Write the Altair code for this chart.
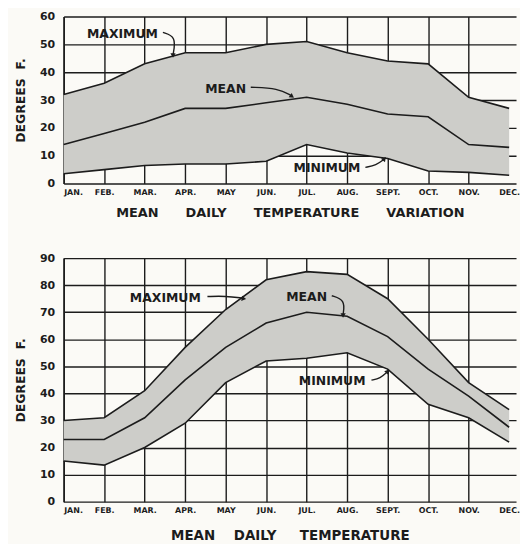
import json
import altair as alt
import pandas as pd

months = ["JAN.", "FEB.", "MAR.", "APR.", "MAY", "JUN.", "JUL.", "AUG.", "SEPT.", "OCT.", "NOV.", "DEC."]

var_max = [32, 36, 43, 47, 47, 50, 51, 47, 44, 43, 31, 27]
var_mean = [14, 18, 22, 27, 27, 29, 31, 28.5, 25, 24, 14, 13]
var_min = [3.5, 5, 6.5, 7, 7, 8, 14, 11, 9, 4.5, 4, 3]

temp_max = [30, 31, 41, 57, 71, 82, 85, 84, 75, 60, 44, 34]
temp_mean = [23, 23, 31, 45, 57, 66, 70, 68.5, 61, 49, 39, 27.5]
temp_min = [15, 13.5, 20, 29, 44, 52, 53, 55, 49, 36, 31, 22]

# annotation labels: text, x (month index), y (degrees)
var_labels = [("MAXIMUM", 1.45, 53.6), ("MEAN", 4.0, 33.9), ("MINIMUM", 6.5, 5.4)]
var_arrows = {
    "MAXIMUM": [(2.45, 54.3), (2.78, 52.8), (2.70, 46.2)],
    "MEAN": [(4.62, 34.6), (5.3, 34.2), (5.62, 31.6)],
    "MINIMUM": [(7.45, 5.8), (7.72, 6.6), (7.9, 8.6)],
}
var_heads = [(2.70, 46.0, 180), (5.64, 31.3, 125), (7.92, 8.9, 40)]

temp_labels = [("MAXIMUM", 2.51, 75.4), ("MEAN", 6.0, 75.7), ("MINIMUM", 6.63, 44.5)]
temp_arrows = {
    "MAXIMUM": [(3.55, 75.8), (4.0, 76.0), (4.42, 75.2)],
    "MEAN": [(6.62, 76.1), (6.95, 74.5), (6.9, 69.2)],
    "MINIMUM": [(7.6, 44.9), (7.82, 45.6), (7.98, 47.8)],
}
temp_heads = [(4.45, 75.0, 100), (6.9, 68.8, 180), (8.0, 48.2, 40)]

FONT = "DejaVu Sans"
INK = "#1c1c1c"
BAND = "#cdcdc9"
BG = "#fbfaf6"
NB = "\u00a0"

label_expr = json.dumps(months) + "[datum.value]"


def panel(mx, mn, lo, ymax, height, title, title_size, title_pad, labels, arrows, heads):
    df = pd.DataFrame({"i": list(range(12)), "month": months, "max": mx, "mean": mn, "min": lo})
    x_scale = alt.Scale(domain=[0, 11.17], nice=False, zero=False)
    x_axis = alt.Axis(
        values=list(range(12)),
        labelExpr=label_expr,
        labelFont=FONT, labelFontWeight="bold", labelFontSize=8, labelColor=INK,
        labelPadding=5, labelOverlap=False, ticks=False, domain=False,
        grid=True, gridColor=INK, gridWidth=1.4,
        gridOpacity={"condition": {"test": "datum.value === 11", "value": 0}, "value": 1},
        title=title, titleFont=FONT, titleFontSize=title_size, titleFontWeight="bold",
        titleColor=INK, titlePadding=title_pad,
    )
    y_axis = alt.Axis(
        values=list(range(0, ymax + 1, 10)),
        labelFont=FONT, labelFontWeight="bold", labelFontSize=11, labelColor=INK,
        labelPadding=9, labelOverlap=False, ticks=False, domain=True, domainColor=INK,
        domainWidth=1.6, grid=True, gridColor=INK, gridWidth=1.4,
        title="DEGREES" + NB * 2 + "F.", titleFont=FONT, titleFontSize=12.5, titleFontWeight="bold",
        titleColor=INK, titlePadding=12,
    )
    y_scale = alt.Scale(domain=[0, ymax], nice=False)

    def X(field):
        return alt.X(field, scale=x_scale, axis=x_axis)

    def Y(field):
        return alt.Y(field, scale=y_scale, axis=y_axis)

    base = alt.Chart(df)
    area = base.mark_area(color=BAND, opacity=1).encode(x=X("i:Q"), y=Y("max:Q"), y2="min:Q")
    lines = []
    for f in ["max", "mean", "min"]:
        lines.append(base.mark_line(color=INK, strokeWidth=1.6).encode(x=X("i:Q"), y=Y(f + ":Q")))

    ldf = pd.DataFrame(labels, columns=["t", "x", "y"])
    txt = alt.Chart(ldf).mark_text(
        font=FONT, fontSize=12.5, fontWeight="bold", color=INK, baseline="middle"
    ).encode(x=X("x:Q"), y=Y("y:Q"), text="t:N")

    rows = []
    for k, pts in arrows.items():
        for j, (ax, ay) in enumerate(pts):
            rows.append({"k": k, "o": j, "x": ax, "y": ay})
    adf = pd.DataFrame(rows)
    arr = alt.Chart(adf).mark_line(color=INK, strokeWidth=1.4, interpolate="basis").encode(
        x=X("x:Q"), y=Y("y:Q"), detail="k:N", order="o:Q"
    )
    hdf = pd.DataFrame(heads, columns=["x", "y", "a"])
    hd = alt.Chart(hdf).mark_point(shape="triangle-up", filled=True, color=INK, size=28, opacity=1).encode(
        x=X("x:Q"), y=Y("y:Q"), angle=alt.Angle("a:Q", scale=None)
    )
    return alt.layer(area, *lines, arr, hd, txt).properties(width=455, height=height)


top = panel(var_max, var_mean, var_min, 60, 168,
            "MEAN" + NB * 6 + "DAILY" + NB * 6 + "TEMPERATURE" + NB * 6 + "VARIATION", 13, 10,
            var_labels, var_arrows, var_heads)
bottom = panel(temp_max, temp_mean, temp_min, 90, 245,
               "MEAN" + NB * 4 + "DAILY" + NB * 5 + "TEMPERATURE", 13.5, 14,
               temp_labels, temp_arrows, temp_heads)

chart = alt.vconcat(top, bottom, spacing=33).properties(
    background=BG, padding={"left": 6, "top": 1, "right": 0, "bottom": 0}
).configure_view(stroke=None)

chart.save("out.html", embed_options={"renderer": "svg", "actions": False})
